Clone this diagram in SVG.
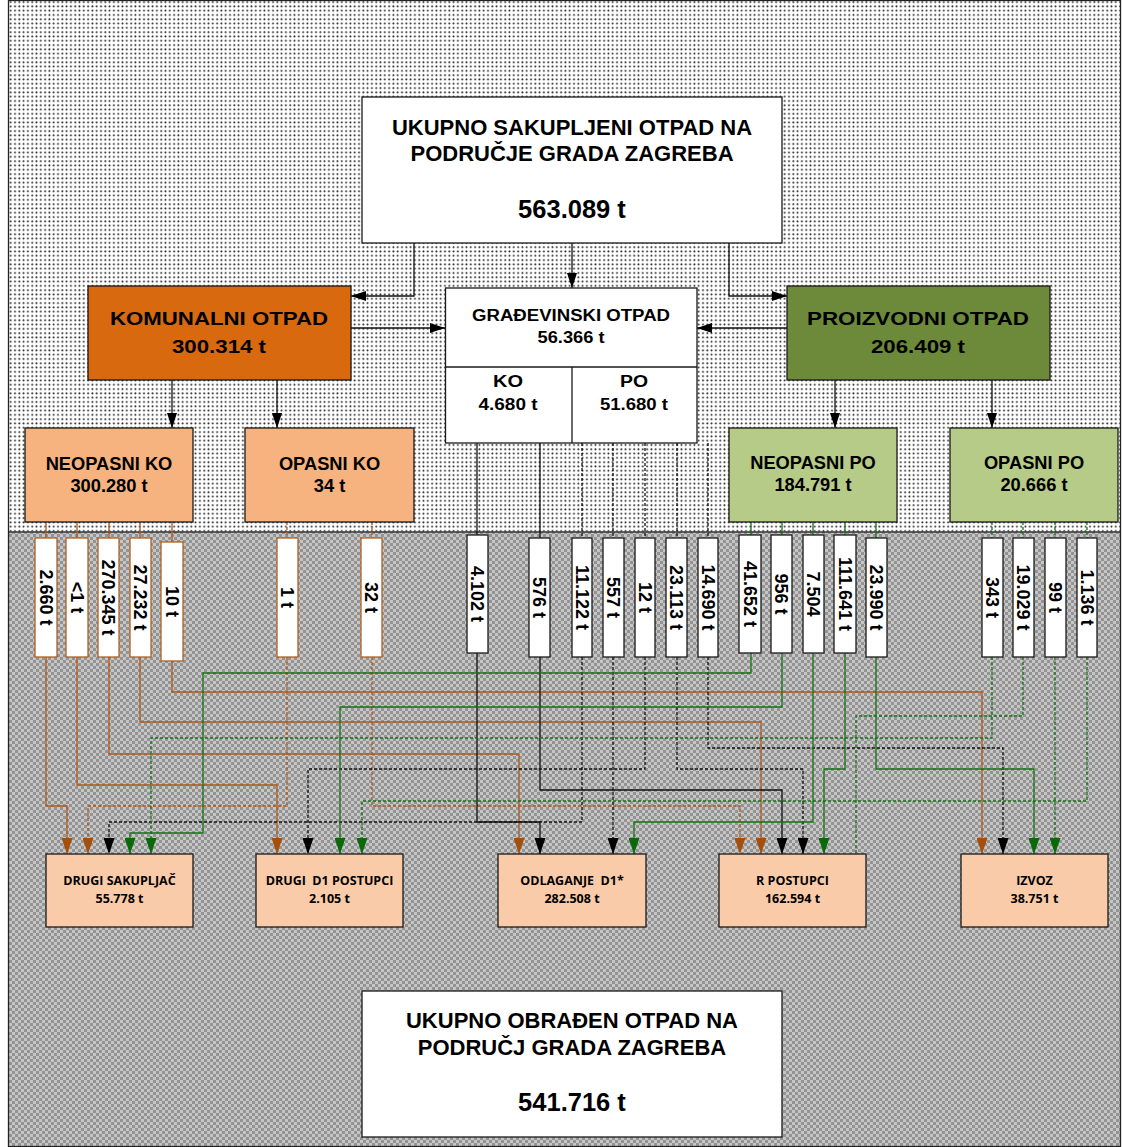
<svg xmlns="http://www.w3.org/2000/svg" width="1122" height="1147" viewBox="0 0 1122 1147">
<style>
text{font-family:"Liberation Sans",Arial,sans-serif;font-weight:bold;fill:#000;text-anchor:middle}
.box{stroke:#1a1a1a;stroke-width:1.3}
.lb{fill:#fff;stroke:#1a1a1a;stroke-width:1.3}
.lbo{fill:#fff;stroke:#B0601F;stroke-width:1.3}
.vt{font-size:18px}
.bt{font-family:"Open Sans","Liberation Sans",sans-serif;font-size:12.5px;font-weight:700}
path{fill:none;stroke-width:1.3}
.o{stroke:#B0581A}
.od{stroke:#B0581A;stroke-dasharray:3 2}
.k{stroke:#111}
.kd{stroke:#111;stroke-dasharray:3 2}
.g{stroke:#137313}
.gd{stroke:#137313;stroke-dasharray:3 2}
</style>
<defs>
<pattern id="dots" width="4.3" height="4.3" patternUnits="userSpaceOnUse">
<rect width="4.3" height="4.3" fill="#fff"/>
<circle cx="2.1" cy="2.1" r="0.95" fill="#222"/>
</pattern>
<pattern id="chk" width="6" height="6" patternUnits="userSpaceOnUse">
<rect width="6" height="6" fill="#939393"/>
<rect x="0" y="0" width="3" height="3" fill="#c6c6c6"/>
<rect x="3" y="3" width="3" height="3" fill="#c6c6c6"/>
</pattern>
<marker id="aO" markerUnits="userSpaceOnUse" markerWidth="12" markerHeight="17" refX="5.5" refY="16" orient="0"><path d="M0,0 L11,0 L5.5,16 z" style="fill:#A4500C;stroke:none"/></marker>
<marker id="aK" markerUnits="userSpaceOnUse" markerWidth="12" markerHeight="17" refX="5.5" refY="16" orient="0"><path d="M0,0 L11,0 L5.5,16 z" style="fill:#000;stroke:none"/></marker>
<marker id="aG" markerUnits="userSpaceOnUse" markerWidth="12" markerHeight="17" refX="5.5" refY="16" orient="0"><path d="M0,0 L11,0 L5.5,16 z" style="fill:#0A6A0A;stroke:none"/></marker>
<marker id="tip" markerUnits="userSpaceOnUse" markerWidth="16" markerHeight="11" refX="15" refY="5" orient="auto"><path d="M0,0 L15,5 L0,10 z" style="fill:#000;stroke:none"/></marker>
</defs>

<rect x="0" y="0" width="1122" height="1147" fill="#fff"/>
<rect x="8.5" y="0.5" width="1112" height="532" fill="url(#dots)"/>
<rect x="8.5" y="532" width="1112" height="614.5" fill="url(#chk)"/>
<line x1="8.5" y1="532" x2="1121" y2="532" stroke="#333" stroke-width="1.3"/>
<rect x="8.5" y="0.5" width="1112" height="1146" fill="none" stroke="#222" stroke-width="1.3"/>

<g id="connectors">
<path class="k" d="M414,243 V296 H351" marker-end="url(#tip)"/>
<path class="k" d="M572,243 V288" marker-end="url(#tip)"/>
<path class="k" d="M729,243 V296 H787" marker-end="url(#tip)"/>
<path class="k" d="M351,328 H445" marker-end="url(#tip)"/>
<path class="k" d="M787,328 H697" marker-end="url(#tip)"/>
<path class="k" d="M172,380 V428" marker-end="url(#tip)"/>
<path class="k" d="M277,380 V428" marker-end="url(#tip)"/>
<path class="k" d="M835,380 V428" marker-end="url(#tip)"/>
<path class="k" d="M992,380 V428" marker-end="url(#tip)"/>

<path class="o" d="M46,522 V538 M77,522 V538 M109,522 V538 M140,522 V538 M172,522 V542"/>
<path class="od" d="M287,522 V538 M372,522 V538"/>
<path class="k" d="M477,443 V535 M540,443 V538"/>
<path class="kd" d="M582,443 V538 M613,443 V538 M645,443 V538 M677,443 V538 M708,443 V538"/>
<path class="g" d="M751,522 V535 M782,522 V535 M813,522 V535 M845,522 V535 M876,522 V538"/>
<path class="gd" d="M992,522 V538 M1023,522 V538 M1055,522 V538 M1087,522 V538"/>

<path class="o" d="M46,657 V806 H67 V854" marker-end="url(#aO)"/>
<path class="o" d="M77,657 V785 H277 V854" marker-end="url(#aO)"/>
<path class="o" d="M109,657 V754 H519 V854" marker-end="url(#aO)"/>
<path class="o" d="M140,657 V722 H761 V854" marker-end="url(#aO)"/>
<path class="o" d="M172,661 V692 H982 V854" marker-end="url(#aO)"/>
<path class="od" d="M287,657 V806 H88 V854" marker-end="url(#aO)"/>
<path class="od" d="M372,657 V806 H740 V854" marker-end="url(#aO)"/>

<path class="k" d="M477,653 V822 H540 V854" marker-end="url(#aK)"/>
<path class="k" d="M540,657 V790 H782 V854" marker-end="url(#aK)"/>
<path class="kd" d="M582,657 V822 H109 V854" marker-end="url(#aK)"/>
<path class="kd" d="M613,657 V854" marker-end="url(#aK)"/>
<path class="kd" d="M645,657 V769 H308 V854" marker-end="url(#aK)"/>
<path class="kd" d="M677,657 V769 H803 V854" marker-end="url(#aK)"/>
<path class="kd" d="M708,657 V748 H1003 V854" marker-end="url(#aK)"/>

<path class="g" d="M751,653 V673 H203 V833 H130 V854" marker-end="url(#aG)"/>
<path class="g" d="M782,653 V707 H340 V854" marker-end="url(#aG)"/>
<path class="g" d="M813,653 V822 H634 V854" marker-end="url(#aG)"/>
<path class="g" d="M845,653 V769 H824 V854" marker-end="url(#aG)"/>
<path class="g" d="M876,657 V769 H1034 V854" marker-end="url(#aG)"/>
<path class="gd" d="M992,657 V738 H151 V854" marker-end="url(#aG)"/>
<path class="gd" d="M1023,657 V716 H856 V854"/>
<path class="gd" d="M1055,657 V854" marker-end="url(#aG)"/>
<path class="gd" d="M1087,657 V801 H362 V854" marker-end="url(#aG)"/>
</g>

<g id="ukupno-sakupljeni">
<rect class="box" x="362" y="97" width="420" height="146" fill="#fff"/>
<text x="572" y="135" font-size="22">UKUPNO SAKUPLJENI OTPAD NA</text>
<text x="572" y="161" font-size="22">PODRUČJE GRADA ZAGREBA</text>
<text x="572" y="218" font-size="25.5">563.089 t</text>
</g>

<g id="komunalni">
<rect class="box" x="88" y="286" width="263" height="94" fill="#D9690F"/>
<text x="219" y="325" font-size="19" textLength="218" lengthAdjust="spacingAndGlyphs">KOMUNALNI OTPAD</text>
<text x="219" y="353" font-size="19" textLength="94" lengthAdjust="spacingAndGlyphs">300.314 t</text>
</g>

<g id="gradjevinski">
<rect class="box" x="445.5" y="288" width="251.5" height="155" fill="#fff"/>
<line x1="445.5" y1="367" x2="697" y2="367" stroke="#1a1a1a" stroke-width="1.3"/>
<line x1="572" y1="367" x2="572" y2="443" stroke="#1a1a1a" stroke-width="1.3"/>
<text x="571" y="321" font-size="16" textLength="198" lengthAdjust="spacingAndGlyphs">GRAĐEVINSKI OTPAD</text>
<text x="571" y="343" font-size="16" textLength="67" lengthAdjust="spacingAndGlyphs">56.366 t</text>
<text x="508" y="387" font-size="16" textLength="30" lengthAdjust="spacingAndGlyphs">KO</text>
<text x="508" y="410" font-size="16" textLength="59" lengthAdjust="spacingAndGlyphs">4.680 t</text>
<text x="634" y="387" font-size="16" textLength="28" lengthAdjust="spacingAndGlyphs">PO</text>
<text x="634" y="410" font-size="16" textLength="68" lengthAdjust="spacingAndGlyphs">51.680 t</text>
</g>

<g id="proizvodni">
<rect class="box" x="787" y="286" width="263" height="94" fill="#6C8A3A"/>
<text x="918" y="325" font-size="19" textLength="222" lengthAdjust="spacingAndGlyphs">PROIZVODNI OTPAD</text>
<text x="918" y="353" font-size="19" textLength="94" lengthAdjust="spacingAndGlyphs">206.409 t</text>
</g>

<g id="neopasni-ko">
<rect class="box" x="25" y="428" width="168" height="94" fill="#F7B37F"/>
<text x="109" y="470" font-size="18.3">NEOPASNI KO</text>
<text x="109" y="492" font-size="18.3">300.280 t</text>
</g>
<g id="opasni-ko">
<rect class="box" x="245" y="428" width="169" height="94" fill="#F7B37F"/>
<text x="329.5" y="470" font-size="18.3">OPASNI KO</text>
<text x="329.5" y="492" font-size="18.3">34 t</text>
</g>
<g id="neopasni-po">
<rect class="box" x="729" y="428" width="168" height="94" fill="#B6CB88"/>
<text x="813" y="469" font-size="18.3">NEOPASNI PO</text>
<text x="813" y="491" font-size="18.3">184.791 t</text>
</g>
<g id="opasni-po">
<rect class="box" x="950" y="428" width="168" height="94" fill="#B6CB88"/>
<text x="1034" y="469" font-size="18.3">OPASNI PO</text>
<text x="1034" y="491" font-size="18.3">20.666 t</text>
</g>

<g id="lbl-2660"><rect class="lbo" x="35" y="538" width="22" height="119"/><text class="vt" transform="translate(46,597.5) rotate(90)" y="6.4">2.660 t</text></g>
<g id="lbl-lt1"><rect class="lbo" x="66" y="538" width="22" height="119"/><text class="vt" transform="translate(77,597.5) rotate(90)" y="6.4">&lt;1 t</text></g>
<g id="lbl-270345"><rect class="lbo" x="98" y="538" width="21" height="119"/><text class="vt" transform="translate(108.5,597.5) rotate(90)" y="6.4">270.345 t</text></g>
<g id="lbl-27232"><rect class="lbo" x="130" y="538" width="21" height="119"/><text class="vt" transform="translate(140.5,597.5) rotate(90)" y="6.4">27.232 t</text></g>
<g id="lbl-10"><rect class="lbo" x="161" y="542" width="22" height="119"/><text class="vt" transform="translate(172,601.5) rotate(90)" y="6.4">10 t</text></g>
<g id="lbl-1"><rect class="lbo" x="277" y="538" width="21" height="119"/><text class="vt" transform="translate(287.5,597.5) rotate(90)" y="6.4">1 t</text></g>
<g id="lbl-32"><rect class="lbo" x="361" y="538" width="21" height="119"/><text class="vt" transform="translate(371.5,597.5) rotate(90)" y="6.4">32 t</text></g>

<g id="lbl-4102"><rect class="lb" x="467" y="535" width="21" height="118"/><text class="vt" transform="translate(477.5,594) rotate(90)" y="6.4">4.102 t</text></g>
<g id="lbl-576"><rect class="lb" x="529" y="538" width="21" height="119"/><text class="vt" transform="translate(539.5,597.5) rotate(90)" y="6.4">576 t</text></g>
<g id="lbl-11122"><rect class="lb" x="572" y="538" width="20" height="119"/><text class="vt" transform="translate(582,597.5) rotate(90)" y="6.4">11.122 t</text></g>
<g id="lbl-557"><rect class="lb" x="603" y="538" width="21" height="119"/><text class="vt" transform="translate(613.5,597.5) rotate(90)" y="6.4">557 t</text></g>
<g id="lbl-12"><rect class="lb" x="635" y="538" width="20" height="119"/><text class="vt" transform="translate(645,597.5) rotate(90)" y="6.4">12 t</text></g>
<g id="lbl-23113"><rect class="lb" x="666" y="538" width="21" height="119"/><text class="vt" transform="translate(676.5,597.5) rotate(90)" y="6.4">23.113 t</text></g>
<g id="lbl-14690"><rect class="lb" x="698" y="538" width="20" height="119"/><text class="vt" transform="translate(708,597.5) rotate(90)" y="6.4">14.690 t</text></g>

<g id="lbl-41652"><rect class="lb" x="739" y="535" width="22" height="118"/><text class="vt" transform="translate(750,594) rotate(90)" y="6.4">41.652 t</text></g>
<g id="lbl-956"><rect class="lb" x="771" y="535" width="21" height="118"/><text class="vt" transform="translate(781.5,594) rotate(90)" y="6.4">956 t</text></g>
<g id="lbl-7504"><rect class="lb" x="803" y="535" width="21" height="118"/><text class="vt" transform="translate(813.5,594) rotate(90)" y="6.4">7.504</text></g>
<g id="lbl-111641"><rect class="lb" x="834" y="535" width="22" height="118"/><text class="vt" transform="translate(845,594) rotate(90)" y="6.4">111.641 t</text></g>
<g id="lbl-23990"><rect class="lb" x="866" y="538" width="21" height="119"/><text class="vt" transform="translate(876.5,597.5) rotate(90)" y="6.4">23.990 t</text></g>
<g id="lbl-343"><rect class="lb" x="982" y="538" width="21" height="119"/><text class="vt" transform="translate(992.5,597.5) rotate(90)" y="6.4">343 t</text></g>
<g id="lbl-19029"><rect class="lb" x="1013" y="538" width="21" height="119"/><text class="vt" transform="translate(1023.5,597.5) rotate(90)" y="6.4">19.029 t</text></g>
<g id="lbl-99"><rect class="lb" x="1045" y="538" width="21" height="119"/><text class="vt" transform="translate(1055.5,597.5) rotate(90)" y="6.4">99 t</text></g>
<g id="lbl-1136"><rect class="lb" x="1077" y="538" width="20" height="119"/><text class="vt" transform="translate(1087,597.5) rotate(90)" y="6.4">1.136 t</text></g>

<g id="drugi-sakupljac">
<rect class="box" x="46" y="854" width="147" height="73" fill="#FACBA8"/>
<text class="bt" x="119.5" y="885">DRUGI SAKUPLJAČ</text>
<text class="bt" x="119.5" y="903">55.778 t</text>
</g>
<g id="drugi-d1">
<rect class="box" x="256" y="854" width="147" height="73" fill="#FACBA8"/>
<text class="bt" x="329.5" y="885" xml:space="preserve">DRUGI  D1 POSTUPCI</text>
<text class="bt" x="329.5" y="903">2.105 t</text>
</g>
<g id="odlaganje">
<rect class="box" x="498" y="854" width="148" height="73" fill="#FACBA8"/>
<text class="bt" x="572" y="885" xml:space="preserve">ODLAGANJE  D1*</text>
<text class="bt" x="572" y="903">282.508 t</text>
</g>
<g id="r-postupci">
<rect class="box" x="719" y="854" width="147" height="73" fill="#FACBA8"/>
<text class="bt" x="792.5" y="885">R POSTUPCI</text>
<text class="bt" x="792.5" y="903">162.594 t</text>
</g>
<g id="izvoz">
<rect class="box" x="961" y="854" width="147" height="73" fill="#FACBA8"/>
<text class="bt" x="1034.5" y="885">IZVOZ</text>
<text class="bt" x="1034.5" y="903">38.751 t</text>
</g>

<g id="ukupno-obradjen">
<rect class="box" x="362" y="991" width="420" height="146" fill="#fff"/>
<text x="572" y="1028" font-size="22">UKUPNO OBRAĐEN OTPAD NA</text>
<text x="572" y="1055" font-size="22">PODRUČJ GRADA ZAGREBA</text>
<text x="572" y="1111" font-size="25.5">541.716 t</text>
</g>
</svg>
